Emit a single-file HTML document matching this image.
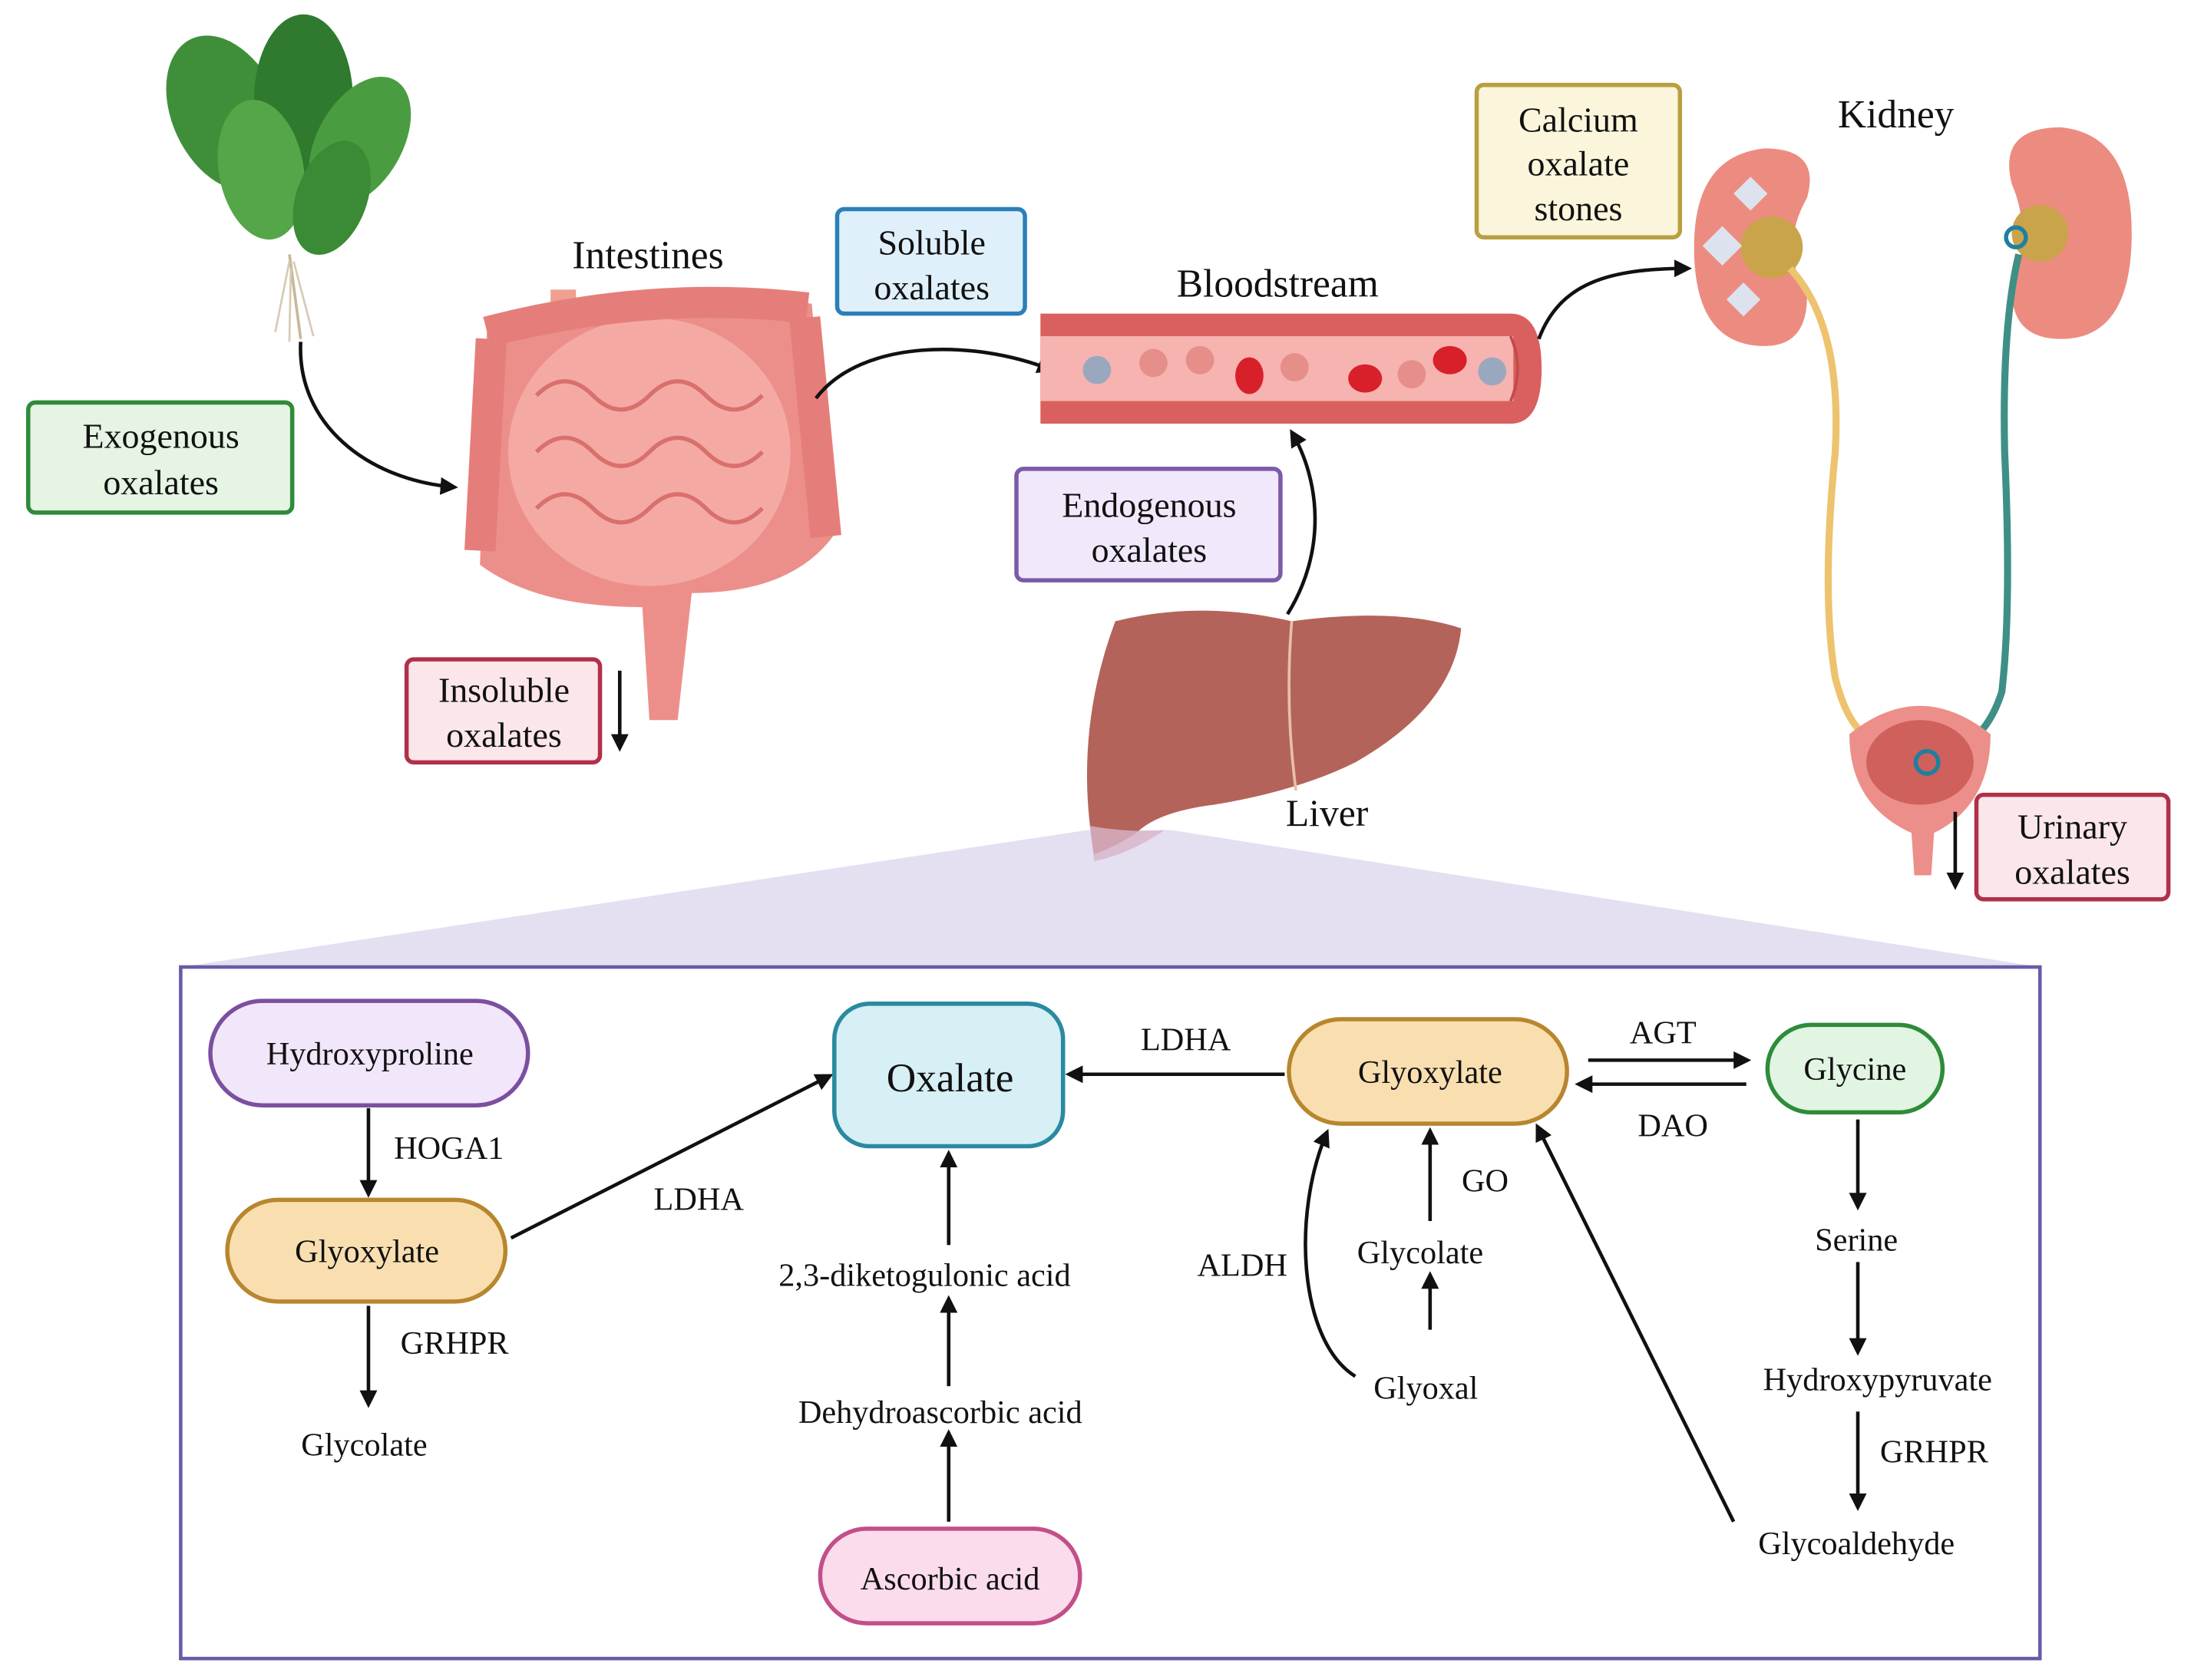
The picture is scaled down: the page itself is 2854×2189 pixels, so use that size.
<!DOCTYPE html>
<html><head><meta charset="utf-8"><style>
html,body{margin:0;padding:0;background:#fff}
svg{display:block}
svg text{font-family:"Liberation Serif","Times New Roman","DejaVu Serif",serif;fill:#111}
</style></head><body>
<svg width="2854" height="2189" viewBox="0 0 1552 1190" xmlns="http://www.w3.org/2000/svg" font-family="Liberation Serif, serif">
<defs>
<marker id="ah" viewBox="0 0 10 10" refX="8" refY="5" markerWidth="5" markerHeight="5" orient="auto-start-reverse"><path d="M0,0 L10,5 L0,10 z" fill="#111"/></marker>
</defs>
<rect width="1552" height="1190" fill="#fff"/>

<polygon points="770,588 830,588 1445,685 128,685" fill="#e4e0f2"/>

<!-- spinach -->
<g>
<path d="M205,180 L213,240" stroke="#c9b79a" stroke-width="2"/>
<path d="M205,185 L195,235 M208,185 L222,238 M206,190 L205,242" stroke="#d8cbb4" stroke-width="1.5"/>
<ellipse cx="160" cy="80" rx="38" ry="58" fill="#3f8f3a" transform="rotate(-25 160 80)"/>
<ellipse cx="215" cy="70" rx="35" ry="60" fill="#2f7a2e"/>
<ellipse cx="255" cy="100" rx="30" ry="50" fill="#4a9c40" transform="rotate(30 255 100)"/>
<ellipse cx="185" cy="120" rx="30" ry="50" fill="#55a648" transform="rotate(-10 185 120)"/>
<ellipse cx="235" cy="140" rx="25" ry="42" fill="#3a8a36" transform="rotate(20 235 140)"/>
</g>
<rect x="20" y="285" width="187" height="78" rx="5" fill="#e5f4e3" stroke="#2e8b3a" stroke-width="3"/>
<text x="114" y="317" font-size="25" text-anchor="middle">Exogenous</text>
<text x="114" y="350" font-size="25" text-anchor="middle">oxalates</text>
<path d="M213,242 C210,300 260,340 322,345" fill="none" stroke="#111" stroke-width="2.5" marker-end="url(#ah)"/>

<!-- intestines -->
<text x="459" y="190" font-size="28" text-anchor="middle">Intestines</text>
<g>
<rect x="390" y="205" width="18" height="30" fill="#f0a090"/>
<path d="M345,230 Q460,200 575,215 L590,380 Q560,420 490,420 L480,510 L460,510 L455,430 Q380,430 340,400 Z" fill="#ec8f8a"/>
<ellipse cx="460" cy="320" rx="100" ry="95" fill="#f4aaa3"/>
<path d="M380,280 q20,-20 40,0 t40,0 t40,0 t40,0 M380,320 q20,-20 40,0 t40,0 t40,0 t40,0 M380,360 q20,-20 40,0 t40,0 t40,0 t40,0" fill="none" stroke="#d9706c" stroke-width="3"/>
<path d="M345,235 Q460,205 572,218" fill="none" stroke="#e57e7a" stroke-width="22"/>
<path d="M348,240 L340,390 M570,225 L585,380" stroke="#e57e7a" stroke-width="22"/>
</g>
<rect x="288" y="467" width="137" height="73" rx="5" fill="#fbe6ea" stroke="#b0304a" stroke-width="3"/>
<text x="357" y="497" font-size="25" text-anchor="middle">Insoluble</text>
<text x="357" y="529" font-size="25" text-anchor="middle">oxalates</text>
<line x1="439" y1="475" x2="439" y2="530" stroke="#111" stroke-width="2.5" marker-end="url(#ah)"/>

<rect x="593" y="148" width="133" height="74" rx="5" fill="#dff0fa" stroke="#2c7fb8" stroke-width="3"/>
<text x="660" y="180" font-size="25" text-anchor="middle">Soluble</text>
<text x="660" y="212" font-size="25" text-anchor="middle">oxalates</text>
<path d="M578,282 C610,240 690,240 745,262" fill="none" stroke="#111" stroke-width="2.5" marker-end="url(#ah)"/>

<!-- bloodstream -->
<text x="905" y="210" font-size="28" text-anchor="middle">Bloodstream</text>
<path d="M737,222 L1070,222 Q1092,222 1092,261 Q1092,300 1070,300 L737,300 Z" fill="#d9605e"/>
<rect x="737" y="238" width="335" height="46" fill="#f6b3b0"/>
<path d="M1070,238 Q1080,261 1070,284" fill="none" stroke="#c24a48" stroke-width="2"/>
<circle cx="777" cy="262" r="10" fill="#9aa8bf"/><circle cx="1057" cy="263" r="10" fill="#9aa8bf"/>
<circle cx="817" cy="257" r="10" fill="#e58e8a"/><circle cx="850" cy="255" r="10" fill="#e58e8a"/>
<circle cx="917" cy="260" r="10" fill="#e58e8a"/><circle cx="1000" cy="265" r="10" fill="#e58e8a"/>
<ellipse cx="885" cy="266" rx="10" ry="13" fill="#d8202a"/><ellipse cx="967" cy="268" rx="12" ry="10" fill="#d8202a"/><ellipse cx="1027" cy="255" rx="12" ry="10" fill="#d8202a"/>
<path d="M1090,240 C1105,200 1140,190 1196,190" fill="none" stroke="#111" stroke-width="2.5" marker-end="url(#ah)"/>

<rect x="1046" y="60" width="144" height="108" rx="5" fill="#fbf5dc" stroke="#b8a040" stroke-width="3"/>
<text x="1118" y="93" font-size="25" text-anchor="middle">Calcium</text>
<text x="1118" y="124" font-size="25" text-anchor="middle">oxalate</text>
<text x="1118" y="156" font-size="25" text-anchor="middle">stones</text>
<text x="1343" y="90" font-size="28" text-anchor="middle">Kidney</text>

<!-- kidneys -->
<path d="M1250,105 Q1200,110 1200,175 Q1200,245 1250,245 Q1280,245 1280,210 Q1260,175 1280,140 Q1290,105 1250,105Z" fill="#ec8c80"/>
<path d="M1460,90 Q1510,95 1510,165 Q1510,240 1460,240 Q1425,240 1425,205 Q1440,165 1425,130 Q1415,90 1460,90Z" fill="#ec8c80"/>
<circle cx="1255" cy="175" r="22" fill="#c9a44a"/><circle cx="1445" cy="165" r="20" fill="#c9a44a"/>
<polygon points="1240,125 1252,137 1240,149 1228,137" fill="#dde3ee"/><polygon points="1220,160 1234,174 1220,188 1206,174" fill="#dde3ee"/><polygon points="1235,200 1247,212 1235,224 1223,212" fill="#dde3ee"/>
<path d="M1268,190 Q1305,230 1300,320 Q1290,420 1300,480 Q1310,520 1330,525" fill="none" stroke="#eec36e" stroke-width="5"/>
<path d="M1430,180 Q1418,230 1420,320 Q1425,430 1418,490 Q1410,515 1395,525" fill="none" stroke="#3f8f86" stroke-width="5"/>
<circle cx="1428" cy="168" r="7" fill="none" stroke="#1f7fa0" stroke-width="3"/>
<path d="M1310,520 Q1360,480 1410,520 Q1410,570 1370,590 L1368,620 L1356,620 L1354,590 Q1310,570 1310,520Z" fill="#ec8f8a"/>
<ellipse cx="1360" cy="540" rx="38" ry="30" fill="#d0605c"/>
<circle cx="1365" cy="540" r="8" fill="none" stroke="#1f7fa0" stroke-width="3"/>
<line x1="1385" y1="575" x2="1385" y2="628" stroke="#111" stroke-width="2.5" marker-end="url(#ah)"/>
<rect x="1400" y="563" width="136" height="74" rx="5" fill="#fbe6ea" stroke="#b0304a" stroke-width="3"/>
<text x="1468" y="594" font-size="25" text-anchor="middle">Urinary</text>
<text x="1468" y="626" font-size="25" text-anchor="middle">oxalates</text>

<!-- endogenous & liver -->
<rect x="720" y="332" width="187" height="79" rx="5" fill="#f1e8fb" stroke="#7b5aa8" stroke-width="3"/>
<text x="814" y="366" font-size="25" text-anchor="middle">Endogenous</text>
<text x="814" y="398" font-size="25" text-anchor="middle">oxalates</text>
<path d="M912,435 C940,390 935,340 915,306" fill="none" stroke="#111" stroke-width="2.5" marker-end="url(#ah)"/>
<path d="M790,440 Q850,425 915,440 Q990,430 1035,445 Q1030,500 960,540 Q920,560 860,570 Q820,575 805,590 Q790,600 775,605 Q760,520 790,440Z" fill="#b4635a"/>
<path d="M772,585 Q800,590 825,588 Q800,605 775,610Z" fill="#d8b4c8" opacity="0.8"/>
<path d="M915,440 Q910,500 918,560" fill="none" stroke="#e7c0a6" stroke-width="2"/>
<text x="940" y="585" font-size="27" text-anchor="middle">Liver</text>

<!-- pathway box -->
<rect x="128" y="685" width="1317" height="490" fill="#fff" stroke="#6a5aa8" stroke-width="2.5"/>
<g font-size="23">
<rect x="149" y="709" width="225" height="74" rx="37" fill="#f1e6fa" stroke="#7b4fa0" stroke-width="3"/>
<text x="262" y="754" font-size="23" text-anchor="middle">Hydroxyproline</text>
<line x1="261" y1="785" x2="261" y2="846" stroke="#111" stroke-width="2.5" marker-end="url(#ah)"/>
<text x="318" y="821" font-size="23" text-anchor="middle">HOGA1</text>
<rect x="161" y="850" width="197" height="72" rx="36" fill="#f9dfb0" stroke="#b8862e" stroke-width="3"/>
<text x="260" y="894" font-size="23" text-anchor="middle">Glyoxylate</text>
<line x1="261" y1="925" x2="261" y2="995" stroke="#111" stroke-width="2.5" marker-end="url(#ah)"/>
<text x="322" y="959" font-size="23" text-anchor="middle">GRHPR</text>
<text x="258" y="1031" font-size="23" text-anchor="middle">Glycolate</text>
<line x1="362" y1="877" x2="588" y2="762" stroke="#111" stroke-width="2.5" marker-end="url(#ah)"/>
<text x="495" y="857" font-size="23" text-anchor="middle">LDHA</text>

<rect x="591" y="711" width="162" height="101" rx="25" fill="#d6f0f5" stroke="#2a8aa0" stroke-width="3"/>
<text x="673" y="773" font-size="29" text-anchor="middle">Oxalate</text>
<line x1="672" y1="882" x2="672" y2="817" stroke="#111" stroke-width="2.5" marker-end="url(#ah)"/>
<text x="655" y="911" font-size="23" text-anchor="middle">2,3-diketogulonic acid</text>
<line x1="672" y1="982" x2="672" y2="920" stroke="#111" stroke-width="2.5" marker-end="url(#ah)"/>
<text x="666" y="1008" font-size="23" text-anchor="middle">Dehydroascorbic acid</text>
<line x1="672" y1="1078" x2="672" y2="1015" stroke="#111" stroke-width="2.5" marker-end="url(#ah)"/>
<rect x="581" y="1083" width="184" height="67" rx="33" fill="#fbdcec" stroke="#c24f8a" stroke-width="3"/>
<text x="673" y="1126" font-size="23" text-anchor="middle">Ascorbic acid</text>

<rect x="913" y="722" width="197" height="74" rx="37" fill="#f9dfb0" stroke="#b8862e" stroke-width="3"/>
<text x="1013" y="767" font-size="23" text-anchor="middle">Glyoxylate</text>
<line x1="910" y1="761" x2="757" y2="761" stroke="#111" stroke-width="2.5" marker-end="url(#ah)"/>
<text x="840" y="744" font-size="23" text-anchor="middle">LDHA</text>
<line x1="1125" y1="751" x2="1238" y2="751" stroke="#111" stroke-width="2.5" marker-end="url(#ah)"/>
<text x="1178" y="739" font-size="23" text-anchor="middle">AGT</text>
<line x1="1237" y1="768" x2="1118" y2="768" stroke="#111" stroke-width="2.5" marker-end="url(#ah)"/>
<text x="1185" y="805" font-size="23" text-anchor="middle">DAO</text>
<rect x="1252" y="726" width="124" height="62" rx="31" fill="#e2f4e2" stroke="#2e8b3a" stroke-width="3"/>
<text x="1314" y="765" font-size="23" text-anchor="middle">Glycine</text>

<line x1="1013" y1="865" x2="1013" y2="801" stroke="#111" stroke-width="2.5" marker-end="url(#ah)"/>
<text x="1052" y="844" font-size="23" text-anchor="middle">GO</text>
<text x="1006" y="895" font-size="23" text-anchor="middle">Glycolate</text>
<line x1="1013" y1="942" x2="1013" y2="903" stroke="#111" stroke-width="2.5" marker-end="url(#ah)"/>
<text x="1010" y="991" font-size="23" text-anchor="middle">Glyoxal</text>
<path d="M960,975 C920,950 915,860 940,802" fill="none" stroke="#111" stroke-width="2.5" marker-end="url(#ah)"/>
<text x="880" y="904" font-size="23" text-anchor="middle">ALDH</text>
<line x1="1228" y1="1078" x2="1089" y2="798" stroke="#111" stroke-width="2.5" marker-end="url(#ah)"/>

<line x1="1316" y1="793" x2="1316" y2="855" stroke="#111" stroke-width="2.5" marker-end="url(#ah)"/>
<text x="1315" y="886" font-size="23" text-anchor="middle">Serine</text>
<line x1="1316" y1="894" x2="1316" y2="958" stroke="#111" stroke-width="2.5" marker-end="url(#ah)"/>
<text x="1330" y="985" font-size="23" text-anchor="middle">Hydroxypyruvate</text>
<line x1="1316" y1="1000" x2="1316" y2="1068" stroke="#111" stroke-width="2.5" marker-end="url(#ah)"/>
<text x="1370" y="1036" font-size="23" text-anchor="middle">GRHPR</text>
<text x="1315" y="1101" font-size="23" text-anchor="middle">Glycoaldehyde</text>
</g>
</svg>
</body></html>
